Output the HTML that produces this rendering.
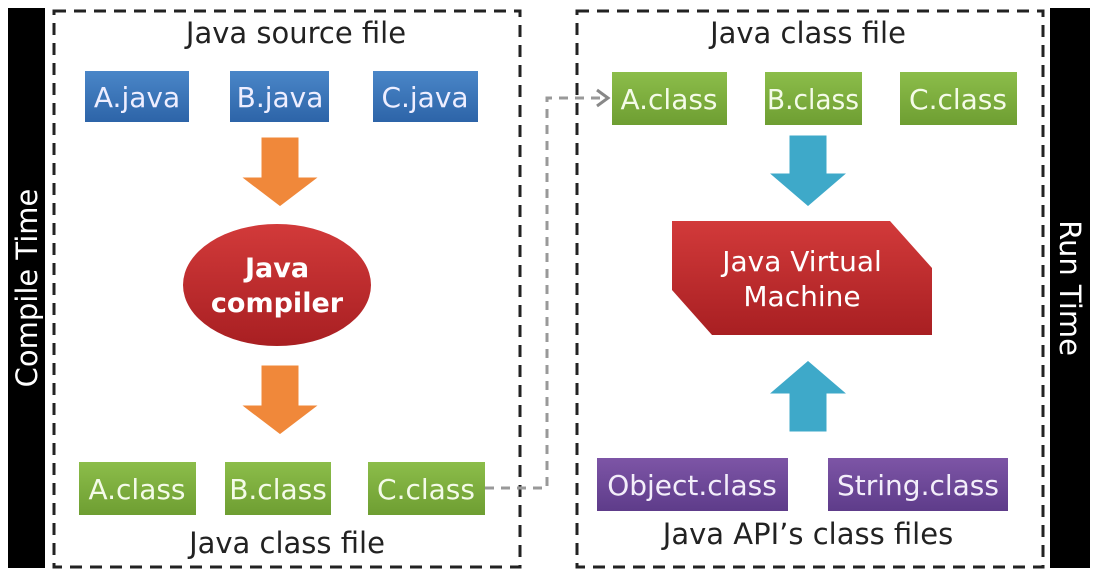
<!DOCTYPE html>
<html><head><meta charset="utf-8"><style>
html,body{margin:0;padding:0;background:#fff;}
svg text{font-family:"DejaVu Sans","Liberation Sans",sans-serif;}
</style></head><body>
<svg width="1100" height="576" viewBox="0 0 1100 576" xmlns="http://www.w3.org/2000/svg">
<defs>
<linearGradient id="bl" x1="0" y1="0" x2="0" y2="1"><stop offset="0" stop-color="#4a86c8"/><stop offset="1" stop-color="#2d64a8"/></linearGradient>
<linearGradient id="gr" x1="0" y1="0" x2="0" y2="1"><stop offset="0" stop-color="#8cbd4a"/><stop offset="1" stop-color="#6e9e32"/></linearGradient>
<linearGradient id="pu" x1="0" y1="0" x2="0" y2="1"><stop offset="0" stop-color="#7d55a6"/><stop offset="1" stop-color="#5e3c8a"/></linearGradient>
<linearGradient id="rd" x1="0" y1="0" x2="0" y2="1"><stop offset="0" stop-color="#d23a3a"/><stop offset="1" stop-color="#a81f22"/></linearGradient>
</defs>
<rect x="8" y="8" width="37" height="560" fill="#000"/>
<rect x="1050" y="8" width="40" height="560" fill="#000"/>
<text transform="translate(37,288) rotate(-90)" fill="#fff" font-size="29" text-anchor="middle">Compile Time</text>
<text transform="translate(1060,288) rotate(90)" fill="#fff" font-size="29" text-anchor="middle">Run Time</text>
<rect x="54" y="11" width="466" height="556" fill="none" stroke="#222" stroke-width="3" stroke-dasharray="12,8"/>
<rect x="577" y="11" width="466" height="556" fill="none" stroke="#222" stroke-width="3" stroke-dasharray="12,8"/>
<path d="M485 488 H547 V98 H605" fill="none" stroke="#999" stroke-width="3" stroke-dasharray="9,7"/>
<path d="M597 90 L608 98 L597 106" fill="none" stroke="#888" stroke-width="3"/>
<g font-size="29" fill="#222" text-anchor="middle">
<text x="296" y="43">Java source file</text>
<text x="287" y="553">Java class file</text>
<text x="808" y="43">Java class file</text>
<text x="808" y="544">Java API’s class files</text>
</g>
<g fill="url(#bl)"><rect x="85" y="71" width="104" height="51"/><rect x="230" y="71" width="99" height="51"/><rect x="373" y="71" width="105" height="51"/></g>
<g fill="url(#gr)">
<rect x="79" y="462" width="117" height="53"/><rect x="225" y="462" width="106" height="53"/><rect x="368" y="462" width="117" height="53"/>
<rect x="612" y="72" width="115" height="53"/><rect x="765" y="72" width="97" height="53"/><rect x="900" y="72" width="117" height="53"/>
</g>
<g fill="url(#pu)"><rect x="597" y="458" width="191" height="53"/><rect x="828" y="458" width="180" height="53"/></g>
<g font-size="28" fill="#eef" text-anchor="middle">
<text x="137" y="107">A.java</text><text x="280" y="107">B.java</text><text x="425" y="107">C.java</text>
<text x="137" y="499" fill="#f4fbe8">A.class</text><text x="278" y="499" fill="#f4fbe8">B.class</text><text x="426" y="499" fill="#f4fbe8">C.class</text>
<text x="669" y="109" fill="#f4fbe8">A.class</text><text x="813" y="109" fill="#f4fbe8" textLength="92" lengthAdjust="spacingAndGlyphs">B.class</text><text x="958" y="109" fill="#f4fbe8">C.class</text>
<text x="692" y="495" fill="#f3eefa">Object.class</text><text x="918" y="495" fill="#f3eefa">String.class</text>
</g>
<g fill="#f0883a" stroke="#fff" stroke-width="3">
<path d="M260 136 H300 V176 H322 L280 208 L238 176 H260 Z"/>
<path d="M260 364 H300 V404 H322 L280 436 L238 404 H260 Z"/>
</g>
<g fill="#3ea9c9" stroke="#fff" stroke-width="3">
<path d="M788 134 H828 V172 H850 L808 208 L766 172 H788 Z"/>
<path d="M788 433 H828 V395 H850 L808 359 L766 395 H788 Z"/>
</g>
<ellipse cx="277" cy="285" rx="94" ry="61" fill="url(#rd)"/>
<text x="277" y="277" font-size="27" font-weight="bold" fill="#fff" text-anchor="middle">Java</text>
<text x="277" y="312" font-size="27" font-weight="bold" fill="#fff" text-anchor="middle">compiler</text>
<path d="M672 221 H890 L932 268 V335 H712 L672 290 Z" fill="url(#rd)"/>
<text x="802" y="271" font-size="28" fill="#fff" text-anchor="middle">Java Virtual</text>
<text x="802" y="306" font-size="28" fill="#fff" text-anchor="middle">Machine</text>
</svg>
</body></html>
